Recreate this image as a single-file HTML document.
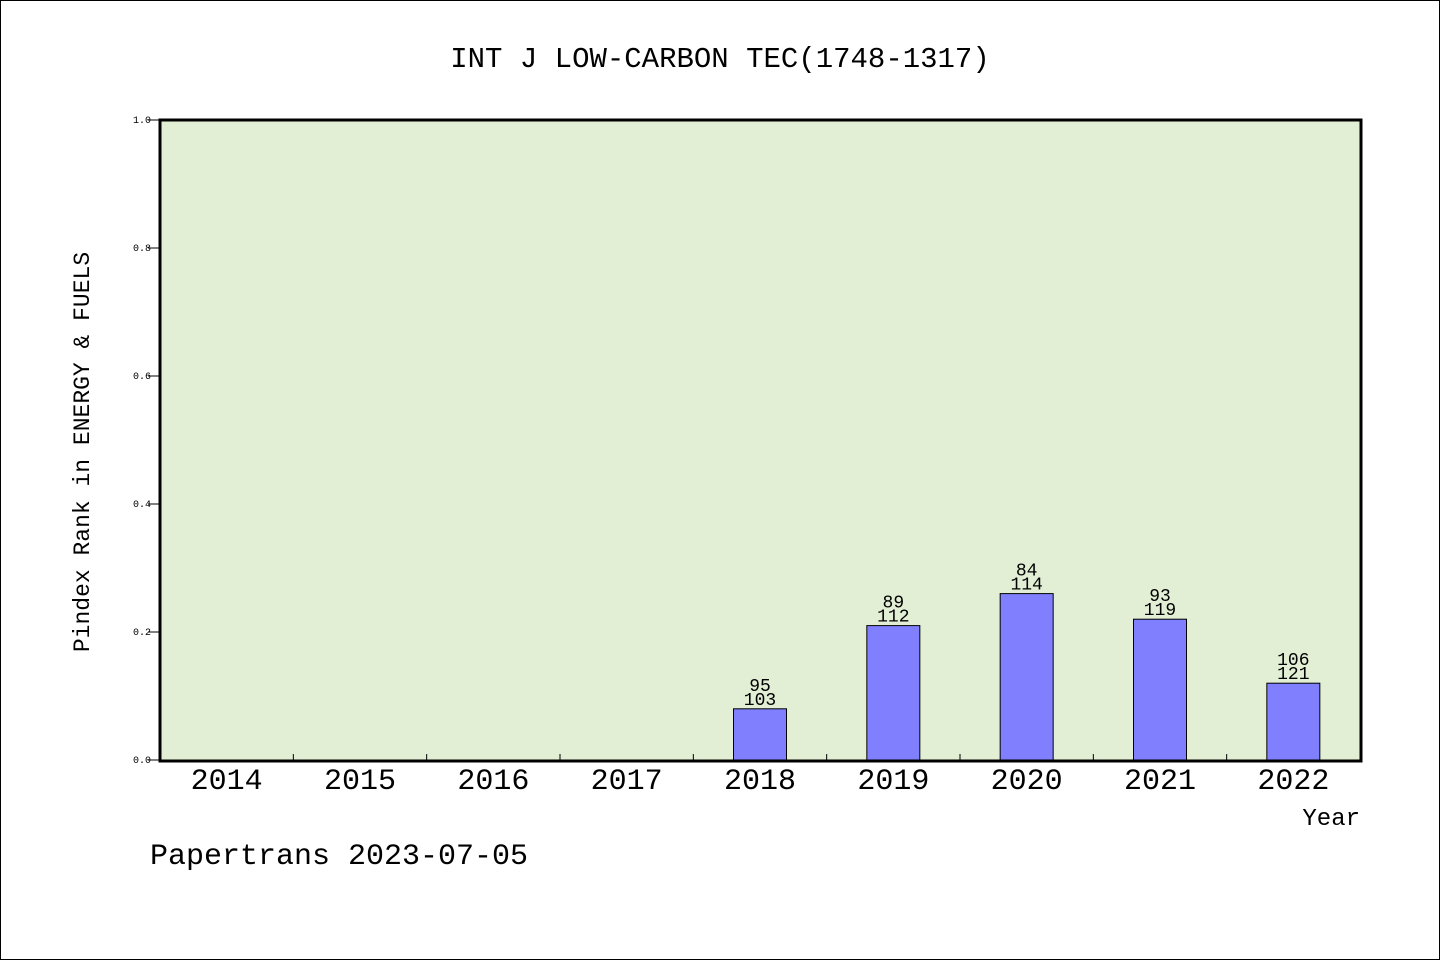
<!DOCTYPE html>
<html><head><meta charset="utf-8"><style>
html,body{margin:0;padding:0;background:#fff}
svg{display:block}
text{font-family:"Liberation Mono","WenQuanYi Zen Hei",monospace;fill:#000}
</style></head><body>
<svg id="chart" width="1440" height="960" xmlns="http://www.w3.org/2000/svg">
<rect x="0.5" y="0.5" width="1439" height="959" fill="#fff" stroke="#000"/>
<text x="720" y="67" font-size="29" text-anchor="middle">INT J LOW-CARBON TEC(1748-1317)</text>
<rect x="160" y="120" width="1201" height="641" fill="#e2efd5"/>
<g id="marks"></g>
<rect x="160" y="120" width="1201" height="641" fill="none" stroke="#000" stroke-width="3"/>
<text transform="translate(89,452) rotate(-90)" font-size="23" text-anchor="middle">Pindex Rank in ENERGY &amp; FUELS</text>
<text x="1360" y="825" font-size="24" text-anchor="end">Year</text>
<text x="150" y="864" font-size="30">Papertrans 2023-07-05</text>
</svg>
<script>
const categories=["2014","2015","2016","2017","2018","2019","2020","2021","2022"];
const values=[0,0,0,0,0.08,0.21,0.26,0.22,0.12];
const topLabels=["","","","","95","89","84","93","106"];
const bottomLabels=["","","","","103","112","114","119","121"];
const yTicks=[0,0.2,0.4,0.6,0.8,1.0];
const X0=160,X1=1360,Y0=760,Y1=120;
const bw=(X1-X0)/categories.length;
const xc=i=>X0+bw*(i+0.5);
const y=v=>Y0-(v)*(Y0-Y1);
const g=document.getElementById('marks');
const NS='http://www.w3.org/2000/svg';
function mk(t,a){const e=document.createElementNS(NS,t);for(const k in a)e.setAttribute(k,a[k]);g.appendChild(e);return e;}
yTicks.forEach(v=>{
 const l=mk('line',{x1:148,x2:160,y1:y(v),y2:y(v),stroke:'#000'});
 
 
 const t=mk('text',{x:151,y:y(v)+3,'font-size':10,'text-anchor':'end'});
 t.textContent=v.toFixed(1);
 
 
});
categories.forEach((c,i)=>{
 if(i>0){const l=mk('line',{x1:X0+bw*i,x2:X0+bw*i,y1:Y0,y2:Y0-6,stroke:'#000'});
 
 }
 const t=mk('text',{x:xc(i),y:789,'font-size':30,'text-anchor':'middle'});
 t.textContent=c;
 
 
 if(values[i]>0){
  const r=mk('rect',{x:xc(i)-26.5,y:y(values[i]),width:53,height:Y0-y(values[i]),fill:'#8080ff',stroke:'#000'});
  
  
  const a=mk('text',{x:xc(i),y:y(values[i])-18,'font-size':18,'text-anchor':'middle'});
  a.textContent=topLabels[i];
  
  
  const b=mk('text',{x:xc(i),y:y(values[i])-4,'font-size':18,'text-anchor':'middle'});
  b.textContent=bottomLabels[i];
  
  
 }
});
</script>
</body></html>
